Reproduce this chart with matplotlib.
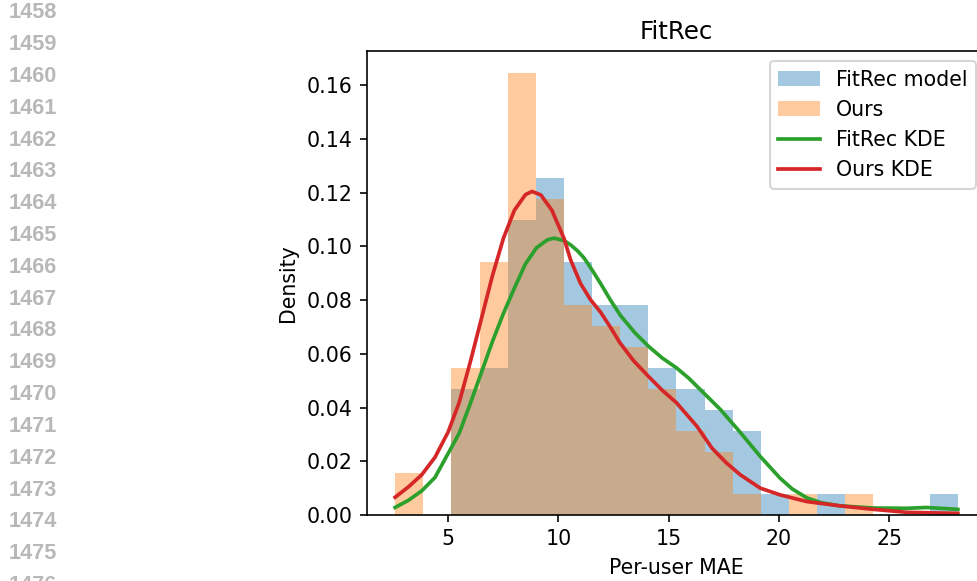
import numpy as np
import matplotlib
matplotlib.use("Agg")
import matplotlib.pyplot as plt

# histogram bins shared by both models (per-user MAE)
bin_lo = 2.59
bin_hi = 28.11
n_bins = 20

# users per bin (100 users each)
fitrec_counts = [0, 0, 6, 7, 14, 16, 12, 10, 10, 7, 6, 5, 4, 1, 0, 1, 0, 0, 0, 1]
ours_counts = [2, 0, 7, 12, 21, 15, 10, 9, 8, 6, 4, 3, 1, 0, 1, 0, 1, 0, 0, 0]

# KDE curves
fitrec_kde_x = [2.59, 3.2, 3.8, 4.4, 5.0, 5.5, 6.0, 6.5, 7.0, 7.5, 8.0, 8.5,
                9.0, 9.5, 9.8, 10.25, 10.55, 10.86, 11.15, 11.4, 11.65, 11.91,
                12.36, 12.82, 13.45, 14.07, 14.7, 15.35, 15.9, 16.43, 17.34,
                18.24, 19.15, 20.05, 20.6, 21.26, 21.9, 22.77, 24.28, 25.79,
                26.69, 28.11]
fitrec_kde_y = [0.0028, 0.0055, 0.0090, 0.0140, 0.0230, 0.0305, 0.0415, 0.0530,
                0.0645, 0.0750, 0.0845, 0.0935, 0.0995, 0.1025, 0.1031, 0.1022,
                0.1006, 0.0984, 0.0958, 0.0928, 0.0896, 0.0862, 0.0800, 0.0742,
                0.0680, 0.0629, 0.0585, 0.0548, 0.0510, 0.0467, 0.0393, 0.0308,
                0.0218, 0.0137, 0.0097, 0.0064, 0.0046, 0.0034, 0.0026, 0.0025,
                0.0028, 0.0021]

ours_kde_x = [2.59, 3.2, 3.8, 4.4, 5.0, 5.5, 6.0, 6.5, 7.0, 7.5, 8.0, 8.5, 8.8,
              9.2, 9.7, 10.25, 10.55, 11.0, 11.45, 11.91, 12.35, 12.78, 13.4,
              14.07, 14.7, 15.35, 16.28, 16.96, 17.6, 18.24, 19.15, 20.05,
              21.26, 22.77, 24.28, 25.79, 28.11]
ours_kde_y = [0.0066, 0.0105, 0.0150, 0.0215, 0.0310, 0.0420, 0.0570, 0.0730,
              0.0890, 0.1030, 0.1135, 0.1193, 0.1205, 0.1192, 0.1135, 0.1030,
              0.0950, 0.0862, 0.0802, 0.0755, 0.0700, 0.0642, 0.0575, 0.0517,
              0.0465, 0.0418, 0.0330, 0.0249, 0.0195, 0.0150, 0.0100, 0.0075,
              0.0050, 0.0034, 0.0021, 0.0010, 0.0006]

line_numbers = list(range(1458, 1477))

DPI = 148
fig = plt.figure(figsize=(977 / DPI, 581 / DPI), dpi=DPI)
ax = fig.add_axes([0.3756, 0.1136, 0.6336, 0.7986])

edges = np.linspace(bin_lo, bin_hi, n_bins + 1)
centers = (edges[:-1] + edges[1:]) / 2

ax.hist(centers, bins=edges, weights=fitrec_counts, density=True,
        alpha=0.4, color="tab:blue", label="FitRec model")
ax.hist(centers, bins=edges, weights=ours_counts, density=True,
        alpha=0.4, color="tab:orange", label="Ours")
ax.plot(fitrec_kde_x, fitrec_kde_y, color="tab:green", lw=1.8, label="FitRec KDE")
ax.plot(ours_kde_x, ours_kde_y, color="tab:red", lw=1.8, label="Ours KDE")

ax.set_title("FitRec")
ax.set_xlabel("Per-user MAE")
ax.set_ylabel("Density")
ax.legend(loc="upper right")

# page line numbers from the paper margin
for i, num in enumerate(line_numbers):
    y_px = 13 + i * 31.8
    fig.text(33 / 977, 1 - y_px / 581, str(num), ha="center", va="center",
             fontsize=10.5, fontweight="bold", color="#b8b8b8",
             family="Liberation Sans")

fig.savefig("out.png", dpi=DPI)
